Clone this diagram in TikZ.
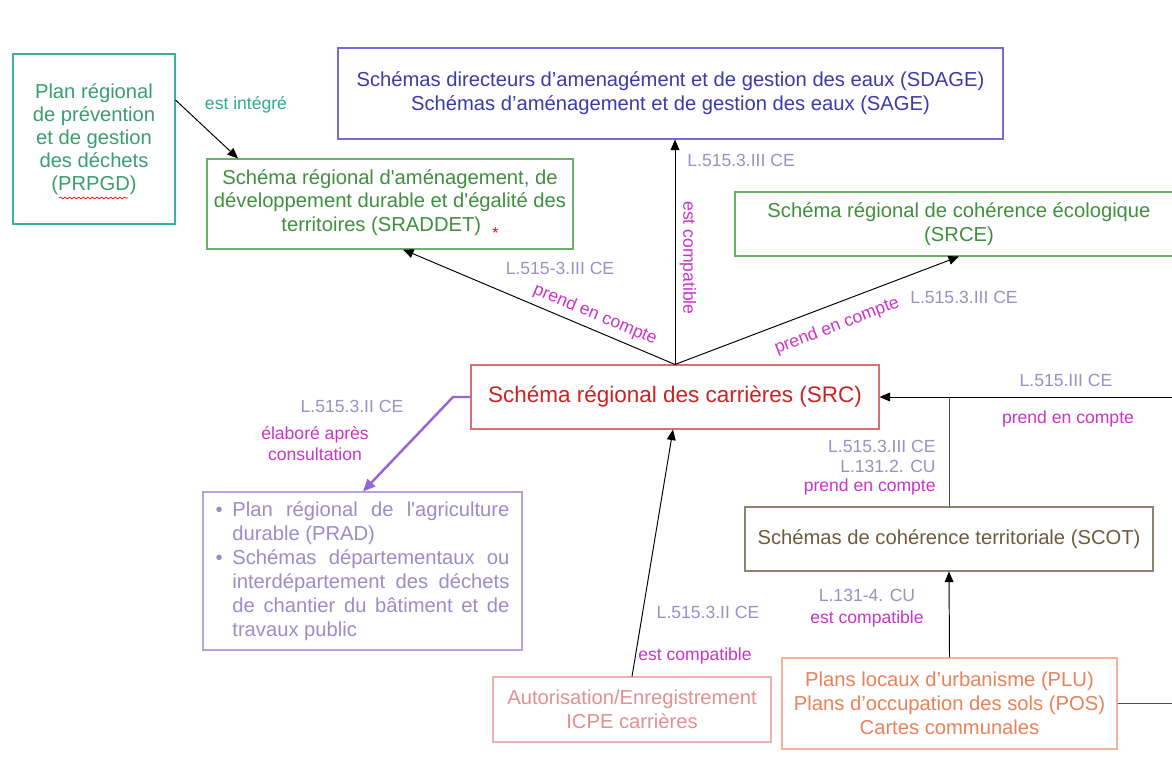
\documentclass[tikz,border=0pt]{standalone}
\usepackage{fontspec}
\setmainfont{Liberation Sans}
\usetikzlibrary{arrows.meta,decorations.pathmorphing}

\definecolor{prpgdbord}{HTML}{3FAE9E}
\definecolor{prpgdtxt}{HTML}{3A9E6E}
\definecolor{integre}{HTML}{2FA98A}
\definecolor{sdagebord}{HTML}{7A6AD8}
\definecolor{sdagetxt}{HTML}{3B3BA8}
\definecolor{vertbord}{HTML}{6AAF6A}
\definecolor{verttxt}{HTML}{3F8F3F}
\definecolor{srcbord}{HTML}{D87070}
\definecolor{srctxt}{HTML}{CC2222}
\definecolor{pradbord}{HTML}{B7A3DB}
\definecolor{pradtxt}{HTML}{9C8CC8}
\definecolor{violet}{HTML}{9566D6}
\definecolor{loicol}{HTML}{9A90C2}
\definecolor{magcol}{HTML}{CC33CC}
\definecolor{scotbord}{HTML}{8C8272}
\definecolor{scottxt}{HTML}{6E5A3E}
\definecolor{plubord}{HTML}{F3B396}
\definecolor{plutxt}{HTML}{E8825A}
\definecolor{icpebord}{HTML}{EEB0B0}
\definecolor{icpetxt}{HTML}{E59090}

\newcommand\puce{\noindent\hangindent=9.6pt\hangafter=1\makebox[9.6pt][l]{\textbullet}}
\newcommand\apos{\textquotesingle}

\tikzset{
  boite/.style={draw, line width=0.6pt, fill=white, align=center, inner sep=2pt,
    font=\fontsize{11.5}{13.5}\selectfont},
  taille/.style 2 args={minimum width=#1*0.02cm, minimum height=#2*0.02cm},
  lien/.style={-{Triangle[length=6pt,width=5pt]}, line width=0.55pt},
  loi/.style={text=loicol, inner sep=0pt, font=\fontsize{10}{11}\selectfont},
  relation/.style={text=magcol, inner sep=0pt, font=\fontsize{10}{11}\selectfont},
}

\begin{document}
\begin{tikzpicture}[x=0.02cm, y=-0.02cm]
  \useasboundingbox (0,0) rectangle (1172,764);

  \node[boite, draw=prpgdbord, text=prpgdtxt, taille={162}{170}, font=\fontsize{11.5}{13}\selectfont] (prpgd) at (94,139)
    {Plan régional\\de prévention\\et de gestion\\des déchets\\(PRPGD)};
  \draw[red, decorate, decoration={snake, amplitude=0.5pt, segment length=2.6pt}] (59,198) -- (128,198);

  \node[boite, draw=sdagebord, text=sdagetxt, taille={665}{91}] (sdage) at (670.5,93.5)
    {Schémas directeurs d'amenagément et de gestion des eaux (SDAGE)\\Schémas d'aménagement et de gestion des eaux (SAGE)};

  \node[boite, draw=vertbord, text=verttxt, taille={366}{90}] (sraddet) at (390,204)
    {Schéma régional d\apos aménagement, de\\développement durable et d\apos égalité des\\territoires (SRADDET)\ \ \textcolor{red}{\raisebox{-4pt}{\small*}}};

  \node[boite, draw=vertbord, text=verttxt, taille={448}{64}] (srce) at (959,224)
    {Schéma régional de cohérence écologique\\(SRCE)};

  \node[boite, draw=srcbord, text=srctxt, taille={408}{64}, font=\fontsize{12.8}{15}\selectfont] (src) at (675,397)
    {Schéma régional des carrières (SRC)};

  \node[boite, draw=pradbord, text=pradtxt, taille={319}{158}, text width=5.88cm, align=justify,
    font=\fontsize{11.5}{13.7}\selectfont] (prad) at (362.5,571)
    {\puce Plan régional de l\apos agriculture\linebreak durable (PRAD)\par
     \puce Schémas départementaux ou\linebreak interdépartement des déchets\linebreak de chantier du bâtiment et de\linebreak travaux public\par};

  \node[boite, draw=scotbord, text=scottxt, taille={408}{64}] (scot) at (949,539)
    {Schémas de cohérence territoriale (SCOT)};

  \node[boite, draw=plubord, text=plutxt, taille={335}{91}, font=\fontsize{11.5}{13.6}\selectfont] (plu) at (949.5,703.5)
    {Plans locaux d'urbanisme (PLU)\\Plans d'occupation des sols (POS)\\Cartes communales};

  \node[boite, draw=icpebord, text=icpetxt, taille={278}{65}] (icpe) at (632,709.5)
    {Autorisation/Enregistrement\\ICPE carrières};

  \coordinate (bordsrc) at (1172,397);
  \coordinate (bordplu) at (1172,703.5);

  \draw[lien] (prpgd.east |- 0,100) -- (sraddet.north -| 238,0);
  \draw[lien] (src.north) -- (sraddet.south -| 403,0);
  \draw[lien] (src.north) -- (sdage.south -| src.north);
  \draw[lien] (src.north) -- (srce.south);
  \draw[lien] (icpe.north) -- (src.south -| 673,0);
  \draw[lien] (bordsrc) -- (src.east);
  \draw[line width=0.55pt, black!70] (scot.north) -- (scot.north |- src.east);
  \draw[lien] (plu.north) -- (scot.south);
  \draw[line width=0.55pt, black!70] (plu.east) -- (bordplu);
  \draw[violet, line width=1.4pt, -{Triangle[length=7pt,width=6pt]}] (src.west) -- (453,397) -- (prad.north -| 363,0);

  \node[relation, text=integre] (l-integre) at (246,105) {est intégré};
  \node[loi] (l-sraddet) at (560,268) {L.515-3.III CE};
  \node[relation, rotate=-22.65] (r-sraddet) at (595,315) {prend en compte};
  \node[loi, anchor=west] (l-sdage) at (687,160) {L.515.3.III CE};
  \node[relation, rotate=-90] (r-sdage) at (688,258) {est compatible};
  \node[relation, rotate=20.9] (r-srce) at (837,326) {prend en compte};
  \node[loi] (l-srce) at (964,297) {L.515.3.III CE};
  \node[loi] (l-prad) at (352,406) {L.515.3.II CE};
  \node[relation, align=center, font=\fontsize{10}{12}\selectfont] (r-prad) at (315,444) {élaboré après\\consultation};
  \node[loi] (l-icpe) at (708,612) {L.515.3.II CE};
  \node[relation] (r-icpe) at (695,656) {est compatible};
  \node[loi] (l-bord) at (1066,380) {L.515.III CE};
  \node[relation] (r-bord) at (1068,419) {prend en compte};
  \node[loi, anchor=east, align=right, font=\fontsize{10}{11.2}\selectfont] (l-scot) at (936,468)
    {L.515.3.III CE\\L.131.2. CU\\\textcolor{magcol}{prend en compte}};
  \node[loi] (l-plu) at (867,595) {L.131-4. CU};
  \node[relation] (r-plu) at (867,619) {est compatible};
\end{tikzpicture}
\end{document}
